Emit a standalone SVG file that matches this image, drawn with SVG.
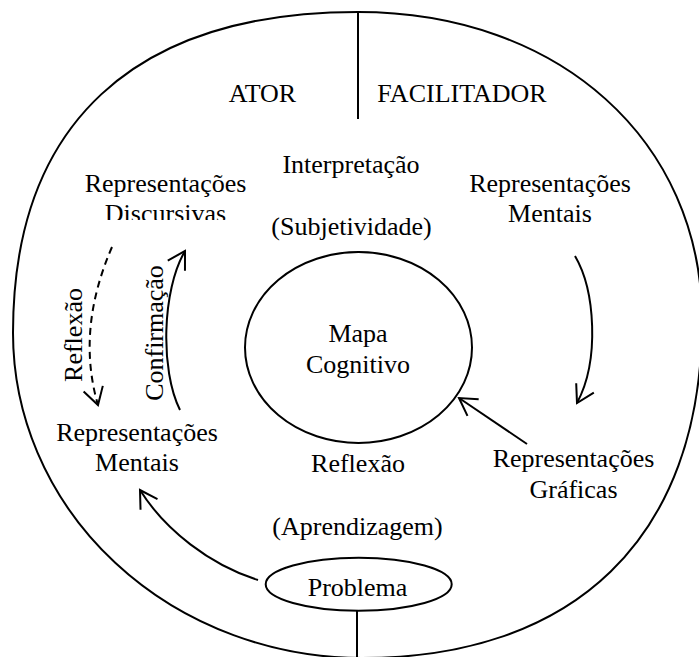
<svg xmlns="http://www.w3.org/2000/svg" width="699" height="657" viewBox="0 0 699 657">
<style>
.t{font-family:"Liberation Serif","Times New Roman",serif;font-size:26px;fill:#000;text-anchor:middle}
.s{fill:none;stroke:#000;stroke-width:2}
.c{fill:none;stroke:#000;stroke-width:2}
.d{stroke-dasharray:7 5}
</style>
<defs>
<marker id="ah" markerUnits="userSpaceOnUse" orient="auto" refX="0" refY="0" markerWidth="40" markerHeight="40" viewBox="-20 -20 40 40" overflow="visible">
<path d="M -17 -10 L 0 0 L -17 10" fill="none" stroke="#000" stroke-width="2"/>
</marker>
<clipPath id="cl"><rect x="0" y="0" width="699" height="220"/></clipPath>
</defs>
<rect width="699" height="657" fill="#fff"/>
<g id="outer">
<path class="s" d="M 358 12 C 559 12, 702 141, 702 320 C 702 540, 572 658, 362 658 A 349 325 0 0 1 13 333 C 13 124, 134 12, 358 12 Z"/>
<line class="s" x1="358" y1="12" x2="358" y2="119"/>
<line class="s" x1="357" y1="611" x2="357" y2="657"/>
</g>
<g id="ator"><text class="t" x="262.5" y="102">ATOR</text></g>
<g id="facilitador"><text class="t" x="462" y="102">FACILITADOR</text></g>
<g id="interpretacao"><text class="t" x="351" y="173">Interpretação</text><text class="t" x="351.5" y="235">(Subjetividade)</text></g>
<g id="rep-discursivas"><g clip-path="url(#cl)"><text class="t" x="165.5" y="192">Representações</text><text class="t" x="165.5" y="222">Discursivas</text></g></g>
<g id="rep-mentais-dir"><text class="t" x="550" y="192">Representações</text><text class="t" x="550" y="222">Mentais</text></g>
<g id="mapa"><ellipse class="s" cx="358.5" cy="347.5" rx="113.5" ry="95.5"/><text class="t" x="358" y="342">Mapa</text><text class="t" x="358" y="373">Cognitivo</text></g>
<g id="rep-mentais-esq"><text class="t" x="137" y="441">Representações</text><text class="t" x="137" y="471">Mentais</text></g>
<g id="reflexao"><text class="t" x="358" y="472">Reflexão</text><text class="t" x="357.5" y="535">(Aprendizagem)</text></g>
<g id="rep-graficas"><text class="t" x="573.5" y="467">Representações</text><text class="t" x="573.5" y="498">Gráficas</text></g>
<g id="problema"><ellipse class="s" cx="358.7" cy="584.2" rx="93" ry="26.5"/><text class="t" x="357.5" y="596">Problema</text></g>
<g id="connectors">
<path class="c d" d="M 112 247 Q 76 330 98 405" marker-end="url(#ah)"/>
<path class="c" d="M 180 410 C 160 370, 162 290, 185 251" marker-end="url(#ah)"/>
<path class="c" d="M 575 256 C 595 290, 600 360, 577 403" marker-end="url(#ah)"/>
<path class="c" d="M 527 444 L 459 398" marker-end="url(#ah)"/>
<path class="c" d="M 258 580 C 210 565, 165 530, 140 490" marker-end="url(#ah)"/>
<text class="t" transform="translate(82,335) rotate(-90)">Reflexão</text>
<text class="t" transform="translate(163,333) rotate(-90)">Confirmação</text>
</g>
</svg>
